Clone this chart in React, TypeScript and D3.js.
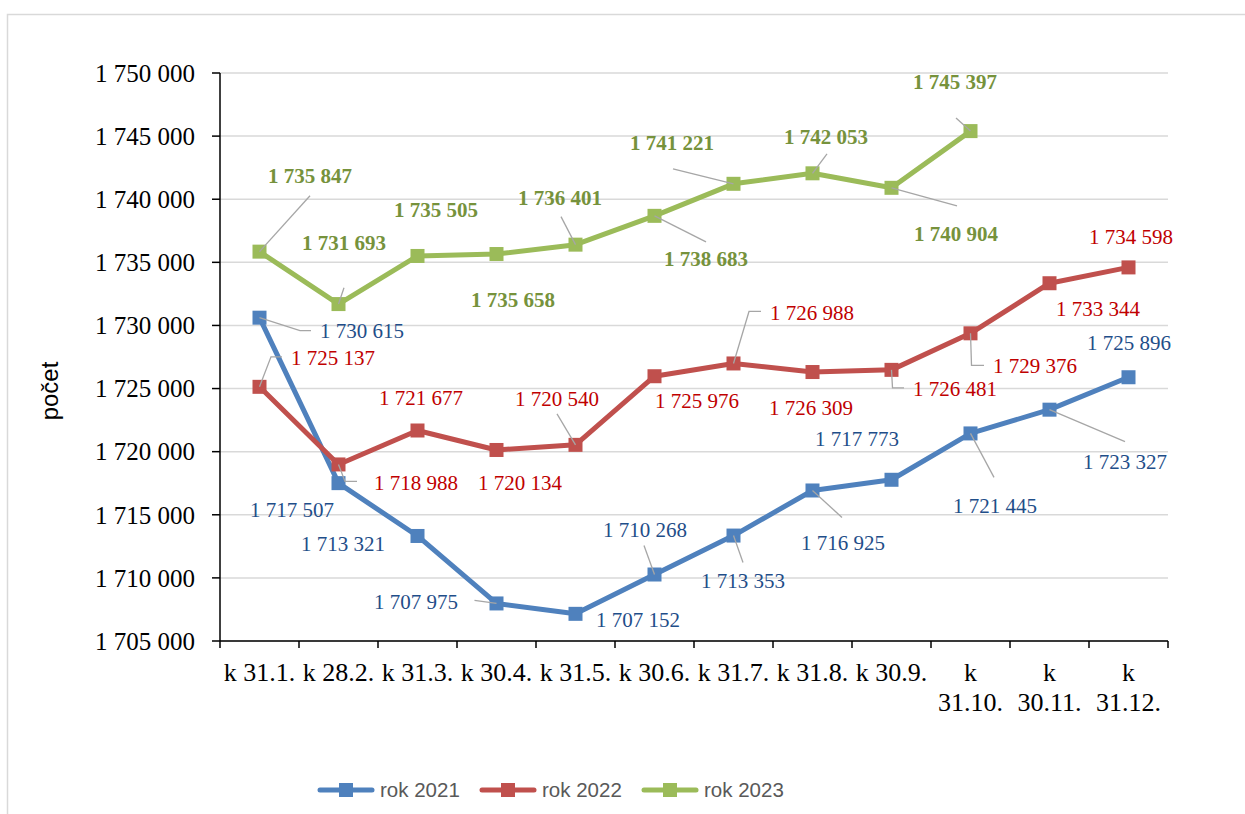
import React from 'react';
import * as d3 from 'd3';

// kategorie na ose x
const categories = [
  'k 31.1.', 'k 28.2.', 'k 31.3.', 'k 30.4.', 'k 31.5.', 'k 30.6.',
  'k 31.7.', 'k 31.8.', 'k 30.9.', 'k 31.10.', 'k 30.11.', 'k 31.12.',
];

// hodnoty jednotlivých let
const values2021 = [1730615, 1717507, 1713321, 1707975, 1707152, 1710268, 1713353, 1716925, 1717773, 1721445, 1723327, 1725896];
const values2022 = [1725137, 1718988, 1721677, 1720134, 1720540, 1725976, 1726988, 1726309, 1726481, 1729376, 1733344, 1734598];
const values2023 = [1735847, 1731693, 1735505, 1735658, 1736401, 1738683, 1741221, 1742053, 1740904, 1745397];

const yTicks = [1705000, 1710000, 1715000, 1720000, 1725000, 1730000, 1735000, 1740000, 1745000, 1750000];

// umístění popisků: [dx, dy, vodicí čára (body relativně k bodu)]
type Place = [number, number, [number, number][]];
const place2021: Place[] = [
  [102.5, 13, [[40.5, 13], [51.5, 13]]],
  [-46.5, 26.3, []],
  [-74.5, 7.4, []],
  [-80.5, -2.2, [[-22, -3]]],
  [62.5, 5.4, []],
  [-9.5, -45.2, [[-10.5, -29]]],
  [9.5, 44.8, [[9.5, 27]]],
  [30.5, 52, [[29.5, 27]]],
  [-34.5, -41.4, []],
  [24.5, 72, [[23.5, 44]]],
  [75.5, 52, [[75.5, 32]]],
  [0.5, -34.7, []],
];
const place2022: Place[] = [
  [73.5, -29.3, [[11.5, -30], [22.5, -30]]],
  [77.5, 18, [[6.5, 17], [18.5, 17]]],
  [3.5, -33, []],
  [23.5, 32.5, []],
  [-18.5, -46.4, [[-18.5, -31]]],
  [42.5, 24.3, []],
  [78.5, -51, [[15.5, -52], [27.5, -52]]],
  [-1.5, 35.5, []],
  [63.5, 18.7, [[1, 18], [12.5, 18]]],
  [64.5, 32.3, [[1, 32], [13.5, 32]]],
  [48.5, 25.5, []],
  [2.5, -30.7, []],
];
const place2023: Place[] = [
  [50.5, -75.9, [[50.5, -55.9]]],
  [5.5, -61.4, [[5.5, -16.4]]],
  [18.5, -46, []],
  [16.5, 45.7, []],
  [-15.5, -47, [[-14.5, -28]]],
  [51.5, 43, [[51.5, 26]]],
  [-61.5, -41, [[-60.5, -15]]],
  [13.5, -36.4, [[14.5, -19.4]]],
  [64.5, 46, [[65.5, 18]]],
  [-15.5, -49, [[-14.5, -13]]],
];

const series = [
  { name: 'rok 2021', values: values2021, place: place2021, color: '#4f81bd', label: '#1f4e89', bold: false },
  { name: 'rok 2022', values: values2022, place: place2022, color: '#c0504d', label: '#c00000', bold: false },
  { name: 'rok 2023', values: values2023, place: place2023, color: '#9bbb59', label: '#76923c', bold: true },
];

const fmt = d3.formatLocale({ decimal: ',', thousands: '\u00a0', grouping: [3], currency: ['', ' Kč'] }).format(',d');

const W = 1245;
const H = 814;
const plot = { left: 220, right: 1168, top: 73, bottom: 641 };
const serif = '"Liberation Serif", "Times New Roman", serif';
const sans = '"Liberation Sans", Arial, sans-serif';

export default function App() {
  const x = d3.scaleBand().domain(categories).range([plot.left, plot.right]);
  const y = d3.scaleLinear().domain([1705000, 1750000]).range([plot.bottom, plot.top]);
  const cx = (i: number) => (x(categories[i]) as number) + x.bandwidth() / 2;
  const line = d3.line<number>().x((_, i) => cx(i)).y((v) => y(v));

  return (
    <svg width={W} height={H} style={{ position: 'absolute', left: 0, top: 0, background: '#fff' }}>
      <rect x={7.5} y={14.5} width={1400} height={1000} fill="none" stroke="#d9d9d9" strokeWidth={1.5} />

      {/* mřížka */}
      {yTicks.map((t) => (
        <line key={t} x1={plot.left} x2={plot.right} y1={y(t)} y2={y(t)} stroke="#d9d9d9" strokeWidth={1.5} />
      ))}

      {/* osa y */}
      <line x1={plot.left} x2={plot.left} y1={plot.top} y2={plot.bottom} stroke="#000" strokeWidth={1.5} />
      {yTicks.map((t) => (
        <g key={t}>
          <line x1={plot.left - 8} x2={plot.left} y1={y(t)} y2={y(t)} stroke="#000" strokeWidth={1.5} />
          <text x={195} y={y(t)} dy="0.35em" textAnchor="end" fontFamily={serif} fontSize={25} fill="#000">
            {fmt(t)}
          </text>
        </g>
      ))}
      <text transform={`translate(58,391) rotate(-90)`} textAnchor="middle" fontFamily={sans} fontSize={24} fill="#000">
        počet
      </text>

      {/* osa x */}
      <line x1={plot.left} x2={plot.right} y1={plot.bottom} y2={plot.bottom} stroke="#000" strokeWidth={1.5} />
      {categories.map((c) => (
        <line key={c} x1={x(c) as number} x2={x(c) as number} y1={plot.bottom} y2={plot.bottom + 7} stroke="#000" strokeWidth={1.5} />
      ))}
      <line x1={plot.right} x2={plot.right} y1={plot.bottom} y2={plot.bottom + 7} stroke="#000" strokeWidth={1.5} />
      {categories.map((c, i) => {
        const lines = c.length > 7 ? [c.slice(0, c.indexOf(' ')), c.slice(c.indexOf(' ') + 1)] : [c];
        return (
          <text key={c} x={cx(i)} y={681} textAnchor="middle" fontFamily={serif} fontSize={26} fill="#000">
            {lines.map((l, k) => (
              <tspan key={k} x={cx(i)} dy={k === 0 ? 0 : 30}>{l}</tspan>
            ))}
          </text>
        );
      })}

      {/* řady */}
      {series.map((s) => (
        <g key={s.name}>
          <path d={line(s.values) as string} fill="none" stroke={s.color} strokeWidth={5} strokeLinejoin="round" />
          {s.values.map((v, i) => (
            <rect key={i} x={cx(i) - 7} y={y(v) - 7} width={14} height={14} fill={s.color} />
          ))}
        </g>
      ))}

      {/* popisky */}
      {series.map((s) => (
        <g key={s.name + 'lab'}>
          {s.values.map((v, i) => {
            const [dx, dy, lead] = s.place[i];
            const px = cx(i);
            const py = y(v);
            return (
              <g key={i}>
                {lead.length > 0 && (
                  <polyline
                    points={[[0, 0], ...lead].map(([a, b]) => `${px + a},${py + b}`).join(' ')}
                    fill="none"
                    stroke="#a6a6a6"
                    strokeWidth={1.3}
                  />
                )}
                <text
                  x={px + dx}
                  y={py + dy}
                  dy="0.35em"
                  textAnchor="middle"
                  fontFamily={serif}
                  fontSize={21}
                  fontWeight={s.bold ? 'bold' : 'normal'}
                  fill={s.label}
                >
                  {fmt(v)}
                </text>
              </g>
            );
          })}
        </g>
      ))}

      {/* legenda */}
      {series.map((s, i) => {
        const lx = 320 + i * 162;
        const ly = 790;
        return (
          <g key={s.name + 'leg'}>
            <line x1={lx} x2={lx + 52} y1={ly} y2={ly} stroke={s.color} strokeWidth={5} strokeLinecap="round" />
            <rect x={lx + 19} y={ly - 7} width={14} height={14} fill={s.color} />
            <text x={lx + 60} y={ly} dy="0.35em" fontFamily={sans} fontSize={20.5} fill="#595959">
              {s.name}
            </text>
          </g>
        );
      })}
    </svg>
  );
}
